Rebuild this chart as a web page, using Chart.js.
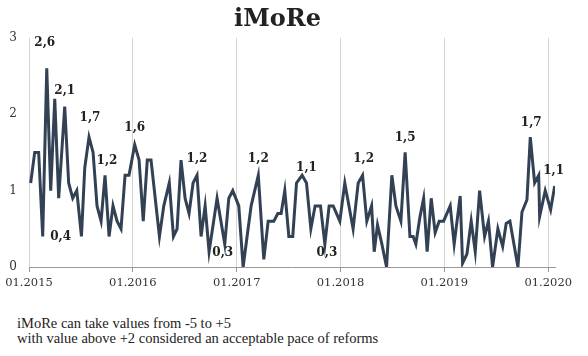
<!DOCTYPE html>
<html>
<head>
<meta charset="utf-8">
<script src="https://cdn.jsdelivr.net/npm/chart.js@4"></script>
<style>
  html, body { margin: 0; padding: 0; background: #ffffff; }
  #wrap { position: relative; width: 588px; height: 356px; overflow: hidden; }
  #note { position: absolute; left: 17px; top: 316px; font-family: "Liberation Serif", serif; font-size: 14.5px; line-height: 15px; color: #222; }
</style>
</head>
<body>
<div id="wrap">
  <canvas id="c" width="588" height="300"></canvas>
  <div id="note">iMoRe can take values from -5 to +5<br>with value above +2 considered an acceptable pace of reforms</div>
</div>
<script>
const dates = [
  2015.016, 2015.055, 2015.093, 2015.132, 2015.171, 2015.209, 2015.248, 2015.286, 2015.344, 2015.382,
  2015.421, 2015.460, 2015.505, 2015.537, 2015.578, 2015.617, 2015.655, 2015.694, 2015.732, 2015.771,
  2015.809, 2015.848, 2015.886, 2015.925, 2015.963, 2016.018, 2016.060, 2016.100, 2016.139, 2016.175,
  2016.256, 2016.298, 2016.351, 2016.391, 2016.426, 2016.464, 2016.503, 2016.541, 2016.580, 2016.618,
  2016.657, 2016.696, 2016.734, 2016.811, 2016.885, 2016.924, 2016.962, 2017.020, 2017.062, 2017.100,
  2017.139, 2017.208, 2017.261, 2017.303, 2017.357, 2017.396, 2017.428, 2017.463, 2017.502, 2017.540,
  2017.576, 2017.630, 2017.672, 2017.714, 2017.755, 2017.807, 2017.849, 2017.890, 2017.929, 2017.993,
  2018.041, 2018.121, 2018.170, 2018.212, 2018.253, 2018.299, 2018.324, 2018.356, 2018.398, 2018.443,
  2018.494, 2018.533, 2018.581, 2018.622, 2018.668, 2018.699, 2018.725, 2018.764, 2018.800, 2018.834,
  2018.873, 2018.911, 2018.950, 2018.992, 2019.056, 2019.094, 2019.152, 2019.175, 2019.217, 2019.258,
  2019.297, 2019.339, 2019.387, 2019.424, 2019.464, 2019.515, 2019.561, 2019.595, 2019.631, 2019.708,
  2019.747, 2019.795, 2019.827, 2019.869, 2019.908, 2019.917, 2019.971, 2020.023, 2020.062
];
// iMoRe index values
const values = [
  1.1, 1.5, 1.5, 0.4, 2.6, 1.0, 2.2, 0.9, 2.1, 1.1,
  0.9, 1.0, 0.4, 1.3, 1.7, 1.5, 0.8, 0.6, 1.2, 0.4,
  0.8, 0.6, 0.5, 1.2, 1.2, 1.6, 1.4, 0.6, 1.4, 1.4,
  0.4, 0.8, 1.1, 0.4, 0.5, 1.4, 0.9, 0.7, 1.1, 1.2,
  0.4, 0.8, 0.2, 0.9, 0.3, 0.9, 1.0, 0.8, 0.0, 0.4,
  0.8, 1.2, 0.1, 0.6, 0.6, 0.7, 0.7, 1.0, 0.4, 0.4,
  1.1, 1.2, 1.1, 0.5, 0.8, 0.8, 0.3, 0.8, 0.8, 0.6,
  1.1, 0.5, 1.1, 1.2, 0.6, 0.8, 0.2, 0.55, 0.3, 0.0,
  1.2, 0.8, 0.6, 1.5, 0.4, 0.4, 0.3, 0.65, 0.9, 0.2,
  0.9, 0.45, 0.6, 0.6, 0.8, 0.3, 0.93, 0.05, 0.17, 0.6,
  0.2, 1.0, 0.4, 0.6, 0.0, 0.5, 0.27, 0.57, 0.6, 0.0,
  0.72, 0.88, 1.7, 1.1, 1.2, 0.66, 1.0, 0.75, 1.06
];
// x-axis tick labels (January of each year)
const yearTicks = [2015, 2016, 2017, 2018, 2019, 2020];
const tickLabels = ['01.2015', '01.2016', '01.2017', '01.2018', '01.2019', '01.2020'];
// Points that carry a value label
const labelIndex = [4, 3, 8, 14, 18, 25, 39, 44, 51, 62, 66, 73, 83, 112, 118];

// label placement (offset of text centre from the point), kept apart from data
const labelOffset = [[-2,-25],[18,0],[0,-16],[1,-19],[2,-14],[0,-17],[0,-16],[-2,9],[0,-16],[0,-15],[2,9],[1,-16],[0,-15],[1,-14],[-1,-15]];

const valueLabels = {
  id: 'valueLabels',
  afterDatasetsDraw(chart) {
    const ctx = chart.ctx;
    const meta = chart.getDatasetMeta(0);
    ctx.save();
    ctx.font = 'bold 12px "DejaVu Serif", serif';
    ctx.fillStyle = '#222';
    ctx.textAlign = 'center';
    ctx.textBaseline = 'middle';
    labelIndex.forEach((idx, k) => {
      const p = meta.data[idx];
      const txt = values[idx].toFixed(1).replace('.', ',');
      ctx.fillText(txt, p.x + labelOffset[k][0], p.y + labelOffset[k][1]);
    });
    ctx.restore();
  }
};

new Chart(document.getElementById('c'), {
  type: 'line',
  data: {
    datasets: [{
      data: dates.map((d, i) => ({ x: d, y: values[i] })),
      borderColor: '#334155',
      borderWidth: 3,
      pointRadius: 0,
      tension: 0,
      fill: false
    }]
  },
  options: {
    responsive: false,
    devicePixelRatio: 1,
    animation: false,
    layout: { padding: { left: 0, right: 33, top: 0, bottom: 0 } },
    plugins: {
      legend: { display: false },
      tooltip: { enabled: false },
      title: {
        display: true,
        text: 'iMoRe',
        color: '#222',
        font: { family: 'DejaVu Serif', size: 24, weight: 'bold' },
        padding: { top: 5, bottom: 4 }
      }
    },
    scales: {
      x: {
        type: 'linear',
        min: 2015,
        max: 2020.065,
        afterBuildTicks: (scale) => { scale.ticks = yearTicks.map(v => ({ value: v })); },
        afterFit: (scale) => { scale.height = 33; },
        ticks: {
          callback: (v) => tickLabels[yearTicks.indexOf(v)],
          font: { family: 'DejaVu Serif', size: 11.5 },
          color: '#333',
          padding: 4,
          maxRotation: 0,
          autoSkip: false
        },
        grid: { color: '#d4d4d4', lineWidth: 1, tickLength: 5, tickColor: '#999' },
        border: { color: '#9a9a9a', width: 1 }
      },
      y: {
        min: 0,
        max: 3,
        afterFit: (scale) => { scale.width = 29; },
        ticks: {
          stepSize: 1,
          font: { family: 'DejaVu Serif', size: 12 },
          color: '#333',
          padding: 12
        },
        grid: { display: false, drawTicks: false },
        border: { display: false }
      }
    }
  },
  plugins: [valueLabels]
});
</script>
</body>
</html>
